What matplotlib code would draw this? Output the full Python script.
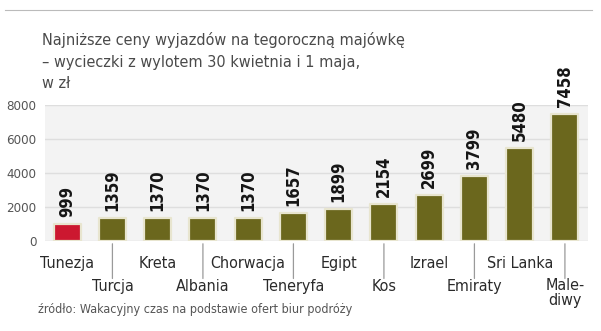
import matplotlib
matplotlib.use("Agg")
from matplotlib import pyplot as plt
from matplotlib.lines import Line2D

# dane
kraje = ["Tunezja", "Turcja", "Kreta", "Albania", "Chorwacja", "Teneryfa",
         "Egipt", "Kos", "Izrael", "Emiraty", "Sri Lanka", "Male-\ndiwy"]
ceny = [999, 1359, 1370, 1370, 1370, 1657, 1899, 2154, 2699, 3799, 5480, 7458]
yticks = [0, 2000, 4000, 6000, 8000]

kolor_olive = "#6b671d"
kolor_red = "#cc1830"
kolory = [kolor_red] + [kolor_olive] * (len(ceny) - 1)

fig = plt.figure(figsize=(6.01, 3.31), dpi=100)
W, H = 601, 331

# osie w pikselach: x 45..588, y 105..241
ax = fig.add_axes([45 / W, (H - 241) / H, (588 - 45) / W, (241 - 105) / H])
ax.set_facecolor("#f3f3f3")
ax.set_xlim(-0.49, 11.51)
ax.set_ylim(0, 8000)

bars = ax.bar(range(len(ceny)), ceny, width=0.6, color=kolory,
              edgecolor="#e8e5cf", linewidth=1.6, zorder=3)
for b in bars:
    b.set_joinstyle("round")

# etykiety wartości
for i, v in enumerate(ceny):
    ax.annotate(str(v), (i, v), xytext=(0, 5), textcoords="offset points",
                rotation=90, ha="center", va="bottom", fontsize=12,
                fontweight="bold", fontstretch="condensed", color="#151515",
                annotation_clip=False, zorder=4)

ax.set_yticks(yticks)
ax.set_yticklabels([str(t) for t in yticks], fontsize=9.5, color="#555555",
                   fontstretch="condensed")
ax.tick_params(axis="y", length=0, pad=6)
ax.set_xticks([])
ax.grid(axis="y", color="#dedede", linewidth=1, zorder=0)
for s in ax.spines.values():
    s.set_visible(False)

# nazwy krajów w dwóch rzędach
fs_kraj = 11.5
for i, k in enumerate(kraje):
    if i % 2 == 0:
        ax.annotate(k, (i, 0), xytext=(0, -16), textcoords="offset points",
                    ha="center", va="center", fontsize=fs_kraj,
                    color="#2a2a2a", fontstretch="condensed",
                    annotation_clip=False)
    else:
        if "\n" in k:
            ax.annotate(k, (i, 0), xytext=(0, -27), textcoords="offset points",
                        ha="center", va="top", fontsize=fs_kraj,
                        color="#2a2a2a", fontstretch="condensed",
                        annotation_clip=False, linespacing=1.0)
        else:
            ax.annotate(k, (i, 0), xytext=(0, -33), textcoords="offset points",
                        ha="center", va="center", fontsize=fs_kraj,
                        color="#2a2a2a", fontstretch="condensed",
                        annotation_clip=False)
        ax.annotate("", (i, 0), xytext=(0, -27), textcoords="offset points",
                    xycoords="data", annotation_clip=False,
                    arrowprops=dict(arrowstyle="-", color="#9a9a9a", lw=0.9,
                                    shrinkA=0, shrinkB=2))

# tytuł
for yy, txt in [(40, "Najniższe ceny wyjazdów na tegoroczną majówkę"),
                (62, "– wycieczki z wylotem 30 kwietnia i 1 maja,"),
                (84, "w zł")]:
    fig.text(42 / W, 1 - yy / H, txt, fontsize=11.6, color="#4a4a4a",
             va="center", fontstretch="condensed")

# źródło
fig.text(38 / W, 1 - 310 / H,
         "źródło: Wakacyjny czas na podstawie ofert biur podróży",
         fontsize=9, color="#555555", va="center", fontstretch="condensed")

# linia u góry
fig.add_artist(Line2D([5 / W, 592 / W], [1 - 10 / H, 1 - 10 / H],
                      color="#bbbbbb", lw=0.8))

fig.savefig("out.png", dpi=100)
